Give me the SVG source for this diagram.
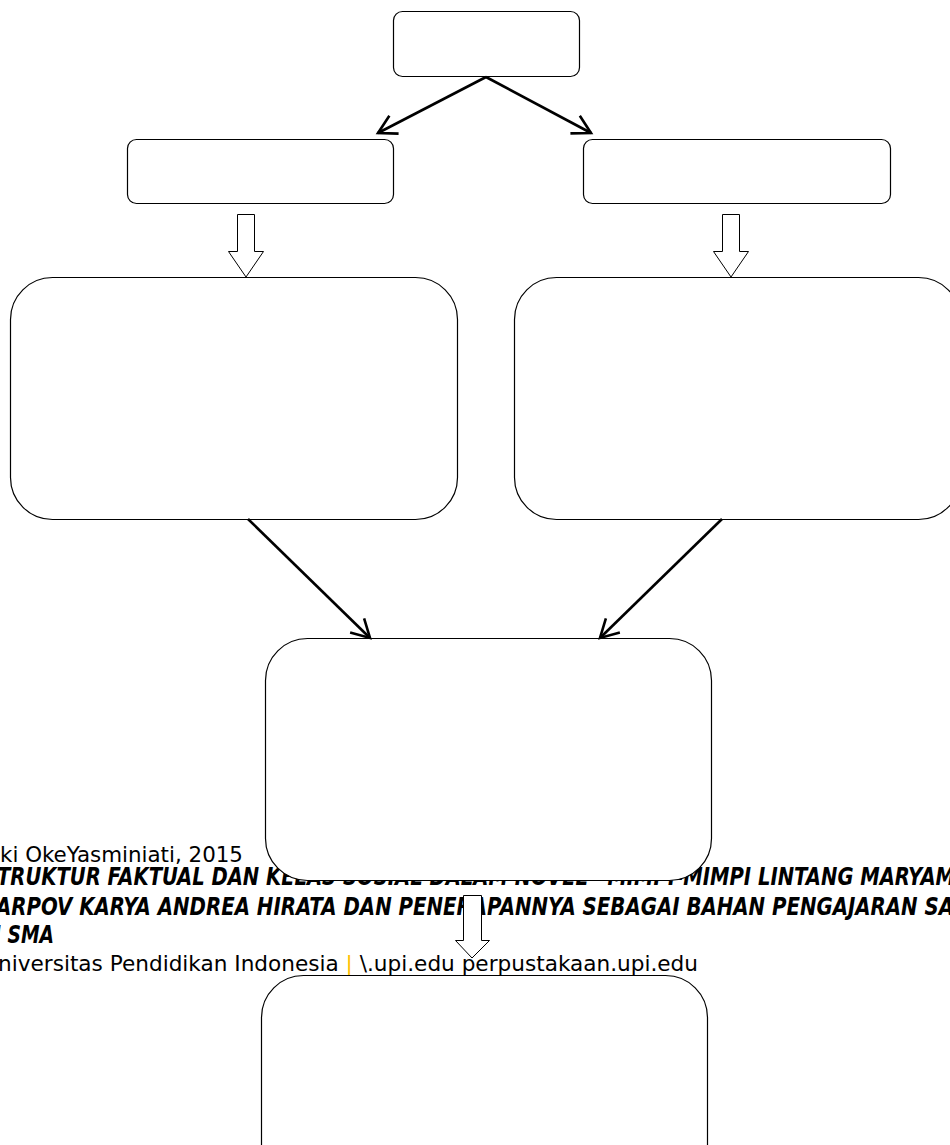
<svg xmlns="http://www.w3.org/2000/svg" width="950" height="1145" viewBox="0 0 950 1145">
<style>
.bg{fill:#ffffff}
.node{fill:#ffffff;stroke:#000000;stroke-width:1.2}
.conn{fill:none;stroke:#000000;stroke-width:2.6}
.blk{fill:#ffffff;stroke:#000000;stroke-width:1}
.t{font-family:"DejaVu Sans","Liberation Sans",sans-serif;font-size:22px;fill:#000000}
.tb{font-family:"DejaVu Sans","Liberation Sans",sans-serif;font-size:24px;font-weight:bold;font-style:italic;fill:#000000}
.bar{fill:#FFC000}
</style>
<defs>
<marker id="vee" viewBox="-22 -13 25 26" markerWidth="25" markerHeight="26" refX="0" refY="0" orient="auto" markerUnits="userSpaceOnUse">
<path d="M -18 -10 L 0 0 L -18 10" fill="none" stroke="#000000" stroke-width="2.6" stroke-linejoin="miter"/>
</marker>
</defs>
<rect class="bg" x="0" y="0" width="950" height="1145"/>
<g id="footer-text">
<text class="t" x="0" y="862" textLength="243" lengthAdjust="spacingAndGlyphs">ki OkeYasminiati, 2015</text>
<text class="tb" x="-3" y="885" textLength="958" lengthAdjust="spacingAndGlyphs">TRUKTUR FAKTUAL DAN KELAS SOSIAL DALAM NOVEL “MIMPI-MIMPI LINTANG MARYAM</text>
<text class="tb" x="-4" y="915" textLength="958" lengthAdjust="spacingAndGlyphs">ARPOV KARYA ANDREA HIRATA DAN PENERAPANNYA SEBAGAI BAHAN PENGAJARAN SA</text>
<text class="tb" x="-6" y="943" textLength="60" lengthAdjust="spacingAndGlyphs">I SMA</text>
<text class="t" x="-2" y="971" textLength="700" lengthAdjust="spacingAndGlyphs">niversitas Pendidikan Indonesia <tspan class="bar">|</tspan> \.upi.edu perpustakaan.upi.edu</text>
</g>
<g id="node-top"><rect class="node" x="393.5" y="11.5" width="186" height="65" rx="9"/></g>
<g id="node-left-small"><rect class="node" x="127.5" y="139.5" width="266" height="64" rx="9"/></g>
<g id="node-right-small"><rect class="node" x="583.5" y="139.5" width="307" height="64" rx="9"/></g>
<g id="node-left-large"><rect class="node" x="10.5" y="277.5" width="447" height="242" rx="42"/></g>
<g id="node-right-large"><rect class="node" x="514.5" y="277.5" width="446" height="242" rx="42"/></g>
<g id="node-middle"><rect class="node" x="265.5" y="638.5" width="446" height="242" rx="42"/></g>
<g id="node-bottom"><rect class="node" x="261.5" y="975.5" width="446" height="242" rx="42"/></g>
<g id="connectors">
<line class="conn" x1="486" y1="77" x2="378" y2="133" marker-end="url(#vee)"/>
<line class="conn" x1="486" y1="77" x2="591" y2="133" marker-end="url(#vee)"/>
<line class="conn" x1="248" y1="519" x2="370" y2="638" marker-end="url(#vee)"/>
<line class="conn" x1="722" y1="519" x2="600" y2="638" marker-end="url(#vee)"/>
<path class="blk" d="M237.5 214.5 H254.5 V251.5 H263.5 L246 277 L228.5 251.5 H237.5 Z"/>
<path class="blk" d="M722.5 214.5 H739.5 V251.5 H748.5 L731 277 L713.5 251.5 H722.5 Z"/>
<path class="blk" d="M463.5 895.5 H481.5 V940.5 H489.5 L472 958 L455.5 940.5 H463.5 Z"/>
</g>
</svg>
